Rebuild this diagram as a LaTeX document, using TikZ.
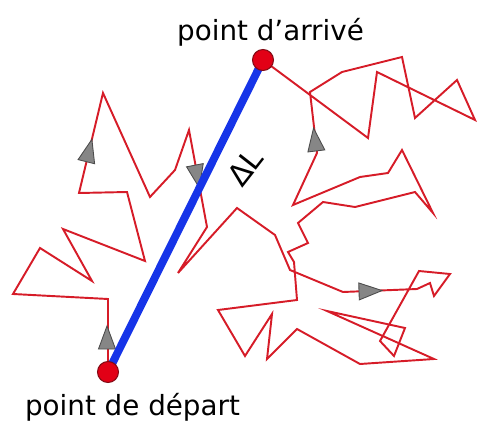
\documentclass[tikz,border=0pt]{standalone}
\usepackage{fontspec}
\setmainfont{DejaVu Sans}
\usepackage{xcolor}
\usetikzlibrary{math}

\definecolor{walkred}{RGB}{214,28,40}
\definecolor{chordblue}{RGB}{22,52,232}
\definecolor{dotred}{RGB}{226,0,22}
\definecolor{dotrim}{RGB}{130,10,20}

\tikzset{
walk/.style={walkred, line width=1.1pt, line join=miter},
chord/.style={chordblue, line width=4.5pt},
dirtip/.style={fill=gray!95, draw=black!70, line width=0.5pt},
enddot/.style={circle, fill=dotred, draw=dotrim, line width=0.6pt, minimum size=0.42cm, inner sep=0pt},
lbl/.style={font=\fontsize{15.8}{18}\selectfont, inner sep=0pt},
}

% small grey triangle showing the sense of the walk
\newcommand{\walktip}[3]{\filldraw[dirtip, shift={(#1,#2)}, rotate=#3] (12,0) -- (-11,8.5) -- (-11,-8.5) -- cycle;}

\begin{document}
\begin{tikzpicture}[x=0.02cm, y=-0.02cm]
\useasboundingbox (0,0) rectangle (477,423);

\coordinate (depart) at (108,372);
\coordinate (arrivee) at (263,60);

\draw[walk] plot coordinates {(108,372) (108,299) (13,294) (40,248) (92,281) (63,229)
 (145,261) (127,192) (79,193) (103,93) (150,197) (175,170) (189,130) (207,227)
 (178,273) (237,208) (275,235) (290,270) (343,292) (417,289) (430,283) (434,296)
 (450,274) (419,271) (380,341) (394,356) (405,328) (327,311) (434,359) (360,364)
 (297,329) (267,359) (272,314) (245,356) (218,310) (297,300) (294,262) (288,252)
 (308,243) (298,223) (323,202) (355,207) (415,192) (433,213) (402,150) (388,173)
 (360,177) (293,205) (317,153) (310,92) (342,72) (402,57) (415,118) (457,80)
 (475,120) (377,72) (368,138) (263,60)};%random walk

\walktip{107}{338}{90}
\walktip{89}{151}{76}
\walktip{197}{176}{-79}
\walktip{315}{140}{97}
\walktip{370}{291}{2}

\draw[chord] (depart) -- (arrivee);

\node[enddot] (dotdepart) at (depart) {};
\node[enddot] (dotarrivee) at (arrivee) {};

\node[lbl] (lblarrivee) at (270.5,32.5) {point d’arrivé};
\node[lbl] (lbldepart) at (132.5,407) {point de départ};
\node[font=\fontsize{17}{19}\selectfont, rotate=52, inner sep=0pt] (lbldelta) at (245,167) {ΔL};

\end{tikzpicture}
\end{document}
